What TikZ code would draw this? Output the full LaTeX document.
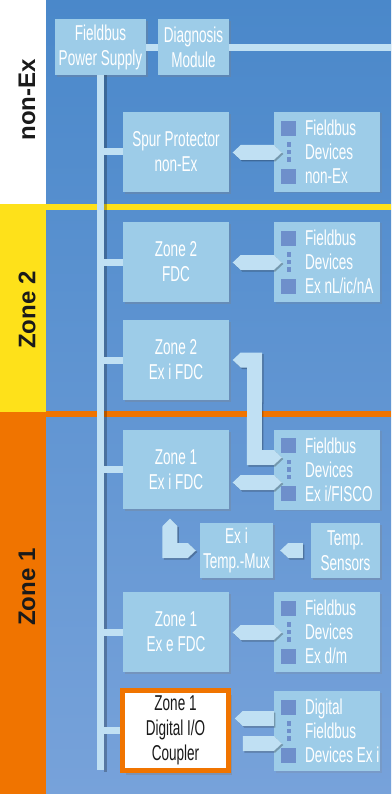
\documentclass[tikz,border=0pt]{standalone}
\usepackage{fontspec}
\setmainfont{Liberation Sans}
\newfontfamily\cond[FakeStretch=0.63]{Liberation Sans}
\usetikzlibrary{calc,shadows}
\definecolor{bgtop}{HTML}{4A88CA}
\definecolor{bgmid}{HTML}{5486C6}
\definecolor{bgbot}{HTML}{77A2DA}
\definecolor{boxcol}{HTML}{9DCCE8}
\definecolor{sqcol}{HTML}{6E8FCB}
\definecolor{conncol}{HTML}{C0E0F3}
\definecolor{zyellow}{HTML}{FEE11A}
\definecolor{zorange}{HTML}{F07400}
\definecolor{ink}{HTML}{1A1A1A}
\tikzset{
  zbox/.style={fill=boxcol, inner sep=0pt, minimum width=106pt, minimum height=80pt,
    text=white, font=\cond\fontsize{21.5}{25}\selectfont, align=center,
    drop shadow={shadow xshift=2pt, shadow yshift=-2pt, opacity=.3}},
  devbox/.style={fill=boxcol, inner sep=0pt, minimum width=106pt, minimum height=80pt,
    drop shadow={shadow xshift=1.5pt, shadow yshift=-1.5pt, opacity=.2}},
  sq/.style={fill=sqcol, inner sep=0pt, minimum size=15pt},
  dotbox/.style={fill=sqcol, inner sep=0pt, minimum width=4pt, minimum height=4.5pt},
  devtext/.style={text=white, font=\cond\fontsize{21.5}{24}\selectfont, inner sep=0pt, anchor=base west},
  busline/.style={draw=conncol, line width=7pt},
  connfill/.style={fill=conncol,
    preaction={fill=black, opacity=.25, transform canvas={shift={(1.5pt,-1.5pt)}}}},
  zonelabel/.style={text=ink, font=\bfseries\fontsize{24}{24}\selectfont, rotate=90, inner sep=0pt}
}
\newcommand\fdev[5]{%
  \node[devbox] (#1) at (#2) {};
  \node[sq] (#1s1) at ($(#1.north west)+(15,16.5)$) {};
  \node[sq] (#1s2) at ($(#1.north west)+(15,64.5)$) {};
  \node[dotbox] (#1d1) at ($(#1.north west)+(15,32.5)$) {};
  \node[dotbox] (#1d2) at ($(#1.north west)+(15,40)$) {};
  \node[dotbox] (#1d3) at ($(#1.north west)+(15,47.5)$) {};
  \node[devtext] (#1t1) at ($(#1.north west)+(31,24)$) {#3};
  \node[devtext] (#1t2) at ($(#1.north west)+(31,48)$) {#4};
  \node[devtext] (#1t3) at ($(#1.north west)+(31,72)$) {#5};
}
% double-headed horizontal connector: left tip, right tip
\newcommand\dblarr[2]{%
  \fill[connfill] (#1) -- ($(#1)+(8,-7.5)$) -- ($(#2)+(-8,-7.5)$) -- (#2)
    -- ($(#2)+(-8,7.5)$) -- ($(#1)+(8,7.5)$) -- cycle;}
% left-pointing connector: left tip, right flat end
\newcommand\leftarr[2]{%
  \fill[connfill] (#1) -- ($(#1)+(8,-7.5)$) -- ($(#2)+(0,-7.5)$)
    -- ($(#2)+(0,7.5)$) -- ($(#1)+(8,7.5)$) -- cycle;}
% right-pointing connector: left flat end, right tip
\newcommand\rightarr[2]{%
  \fill[connfill] ($(#1)+(0,-7.5)$) -- ($(#2)+(-8,-7.5)$) -- (#2)
    -- ($(#2)+(-8,7.5)$) -- ($(#1)+(0,7.5)$) -- cycle;}
\begin{document}
\begin{tikzpicture}[x=1pt,y=-1pt]
\useasboundingbox (0,0) rectangle (391,794);
% background
\shade[top color=bgtop, middle color=bgmid, bottom color=bgbot] (46,0) rectangle (391,794);
% zone bands
\fill[white] (0,0) rectangle (46,204);
\fill[zyellow] (0,204) rectangle (46,412);
\fill[zorange] (0,412) rectangle (46,794);
\fill[zyellow] (46,204) rectangle (391,210);
\fill[zorange] (46,411) rectangle (391,417);
\node[zonelabel] (lblnonex) at (27,100) {non-Ex};
\node[zonelabel] (lblzone2) at (27,310) {Zone 2};
\node[zonelabel] (lblzone1) at (27,587) {Zone 1};
% head boxes
\node[zbox, minimum width=91pt, minimum height=56pt] (ps) at (100.5,47) {Fieldbus\\Power Supply};
\node[zbox, minimum width=71pt, minimum height=56pt] (diag) at (193.5,47) {Diagnosis\\Module};
\coordinate (busend) at (100.5,770);
\coordinate (rightend) at (391,47.5);
% bus shadow and bus
\draw[line width=3pt, black, opacity=.25] ($(ps.south)+(5,0)$) -- ($(busend)+(5,1.5)$);
\draw[busline] (ps.south) -- (busend);
\draw[busline] (ps.east |- 0,47.5) -- (diag.west |- 0,47.5);
\draw[busline] (diag.east |- 0,47.5) -- (rightend);
% main boxes
\node[zbox] (spur) at (176,152) {Spur Protector\\non-Ex};
\node[zbox] (z2fdc) at (176,262) {Zone 2\\FDC};
\node[zbox] (z2exi) at (176,360) {Zone 2\\Ex i FDC};
\node[zbox, minimum height=79pt] (z1exi) at (176,469.5) {Zone 1\\Ex i FDC};
\node[zbox, minimum width=73pt, minimum height=55pt] (mux) at (236.5,550.5) {Ex i\\Temp.-Mux};
\node[zbox, minimum width=69pt, minimum height=55pt] (temp) at (345.5,550.5) {Temp.\\Sensors};
\node[zbox] (z1exe) at (176,632) {Zone 1\\Ex e FDC};
\node[zbox, fill=white, draw=zorange, line width=5.5pt, text=ink,
  drop shadow={shadow xshift=3pt, shadow yshift=-4pt, opacity=.4}] (dio) at (175.5,730.5) {Zone 1\\Digital I/O\\Coupler};
% branches
\foreach \b in {spur,z2fdc,z2exi,z1exi,z1exe,dio}
  \draw[busline] (\b.west -| ps.south) -- (\b.west);
% device boxes
\fdev{dev1}{327,152}{Fieldbus}{Devices}{non-Ex}
\fdev{dev2}{327,262}{Fieldbus}{Devices}{Ex nL/ic/nA}
\fdev{dev3}{327,469.5}{Fieldbus}{Devices}{Ex i/FISCO}
\fdev{dev4}{327,632}{Fieldbus}{Devices}{Ex d/m}
\fdev{dev5}{327,731}{Digital}{Fieldbus}{Devices Ex i}
% connectors
\dblarr{$(spur.east)+(3.5,0.5)$}{$(dev1.west)+(8,0.5)$}
\dblarr{$(z2fdc.east)+(3.5,0.5)$}{$(dev2.west)+(8,0.5)$}
\dblarr{$(z1exi.east)+(3.5,13)$}{$(dev3.west)+(8,13)$}
\dblarr{$(z1exe.east)+(3.5,0.5)$}{$(dev4.west)+(8,0.5)$}
% L connector Zone 2 Ex i FDC <-> Ex i field devices
\coordinate (lt) at ($(z2exi.east)+(3.5,0)$);
\coordinate (lr) at ($(dev3.west)+(8,-12)$);
\fill[connfill] (lt) -- ($(lt)+(8,-7.5)$) -- ($(lt)+(29.5,-7.5)$) -- ($(lr)+(-20,-7.5)$)
  -- ($(lr)+(-8,-7.5)$) -- (lr) -- ($(lr)+(-8,7.5)$) -- ($(lr)+(-35,7.5)$)
  -- ($(lt)+(14.5,7.5)$) -- ($(lt)+(8,7.5)$) -- cycle;
% L connector Zone 1 Ex i FDC <-> Temp.-Mux
\coordinate (mu) at ($(z1exi.south)+(-6,9.5)$);
\coordinate (mr) at ($(mux.west)+(-4,0)$);
\fill[connfill] (mu) -- ($(mu)+(7.5,7.5)$) -- ($(mr)+(-18.5,-7.5)$) -- ($(mr)+(-8,-7.5)$)
  -- (mr) -- ($(mr)+(-8,7.5)$) -- ($(mr)+(-33.5,7.5)$) -- ($(mu)+(-7.5,7.5)$) -- cycle;
% Temp. Sensors -> Temp.-Mux
\leftarr{$(mux.east)+(7,0)$}{$(temp.west)+(-8,0)$}
% Digital I/O coupler connectors
\leftarr{$(dio.east)+(3.5,-12)$}{$(dev5.west)+(0,-12.5)$}
\rightarr{$(dio.east)+(11.5,13)$}{$(dev5.west)+(8,12.5)$}
\end{tikzpicture}
\end{document}
